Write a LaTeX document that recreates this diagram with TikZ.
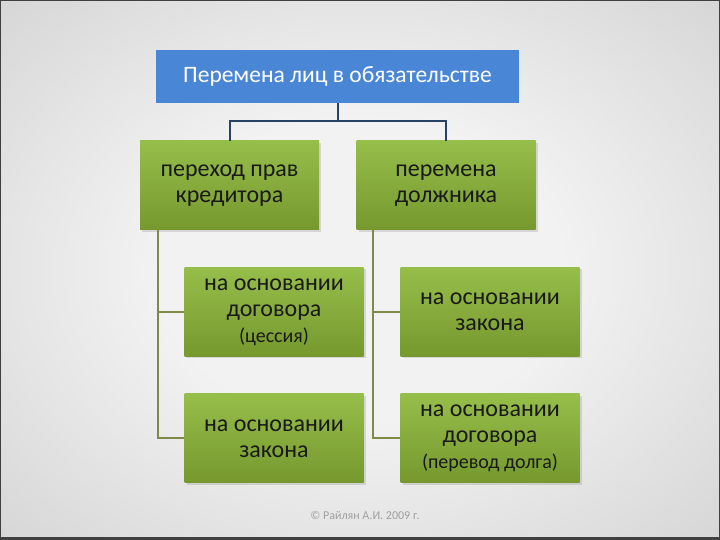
\documentclass[tikz,border=0pt]{standalone}
\usepackage{fontspec}
\setmainfont{Carlito}
\usepackage{xcolor}
\usepackage{tikz}
\usetikzlibrary{shapes,arrows,calc,shadows}
\definecolor{bgin}{RGB}{242,242,242}
\definecolor{bgmid}{RGB}{198,198,198}
\definecolor{bgout}{RGB}{145,145,145}
\definecolor{topblue}{RGB}{74,134,214}
\definecolor{navyline}{RGB}{38,66,102}
\definecolor{grtop}{RGB}{150,190,74}
\definecolor{grbot}{RGB}{118,152,46}
\definecolor{oliveline}{RGB}{128,138,72}
\pgfdeclareradialshading{slidebg}{\pgfpoint{0bp}{0bp}}{color(0bp)=(bgin); color(14bp)=(bgin); color(48bp)=(bgmid); color(71bp)=(bgout)}
\newcommand\parenfont{\fontsize{20}{22}\selectfont}

\begin{document}
\begin{tikzpicture}[x=1pt,y=1pt,
					topbox/.style={fill=topblue, minimum width=363pt, minimum height=53pt, inner sep=2pt, text=white, font=\fontsize{23.5}{26}\selectfont},
					greenbox/.style={top color=grtop, bottom color=grbot, minimum width=179pt, minimum height=89pt, inner sep=2pt, align=center, text=black!90, font=\fontsize{24}{26}\selectfont, drop shadow={shadow xshift=2pt, shadow yshift=-2pt, opacity=0.25}},
					blueline/.style={navyline, line width=2pt},
					olivestem/.style={oliveline, line width=2pt}]
					\shade[shading=slidebg] (0,0) rectangle (720,540);
					\useasboundingbox (0,0) rectangle (720,540);
					\draw[black!75, line width=2pt] (0,0) rectangle (720,540);
					\draw[black!75, line width=6pt] (0,0) -- (720,0);
					\node[topbox] (change) at (337.5,463.5) {Перемена лиц в обязательстве};
					\node[greenbox] (creditor) at (229.5,354.5) {переход прав\\кредитора};
					\node[greenbox] (debtor) at (446,354.5) {перемена\\должника};
					\node[greenbox] (credcontract) at (274,228) {на основании\\договора\\{\parenfont (цессия)}};
					\node[greenbox] (credlaw) at (274,101.5) {на основании\\закона};
					\node[greenbox] (debtlaw) at (490,228) {на основании\\закона};
					\node[greenbox] (debtcontract) at (490,101.5) {на основании\\договора\\{\parenfont (перевод долга)}};
					\draw[blueline] (change.south) -- ++(0,-18) -| (creditor.north);
					\draw[blueline] (change.south) -- ++(0,-18) -| (debtor.north);
					\coordinate (credstem) at ($(creditor.south west)+(18,0)$);
					\coordinate (debtstem) at ($(debtor.south west)+(17,0)$);
					\draw[olivestem] (credstem) |- (credcontract.west);
					\draw[olivestem] (credstem) |- (credlaw.west);
					\draw[olivestem] (debtstem) |- (debtlaw.west);
					\draw[olivestem] (debtstem) |- (debtcontract.west);
					\node[text=gray!75, font=\fontsize{12}{14}\selectfont] (copyright) at (365,25) {© Райлян А.И. 2009 г.};
				\end{tikzpicture}
\end{document}
